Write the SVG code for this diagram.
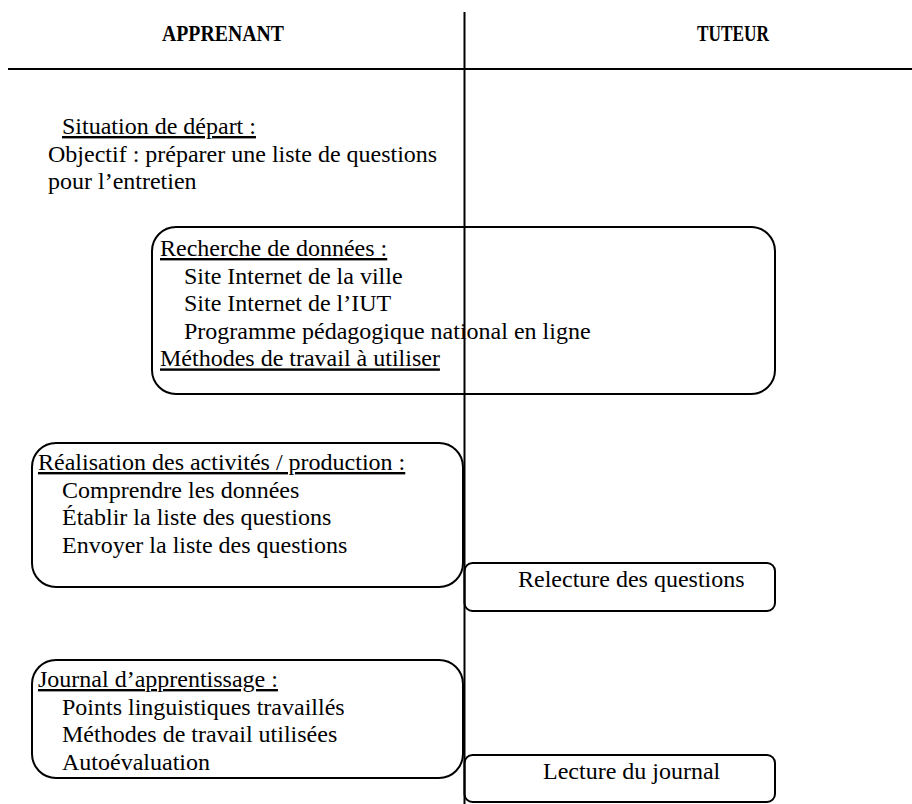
<svg xmlns="http://www.w3.org/2000/svg" width="912" height="804" viewBox="0 0 912 804">
<style>
text{font-family:"Liberation Serif","Times New Roman",serif;font-size:24px;fill:#000}
.h{font-weight:bold;text-anchor:middle}
.u{text-decoration:underline}
.box{fill:none;stroke:#000;stroke-width:2}
.ln{stroke:#000;fill:none}
</style>
<rect width="912" height="804" fill="#fff"/>
<g id="connectors">
<line class="ln" x1="464.5" y1="12" x2="464.5" y2="804" stroke-width="2"/>
<line class="ln" x1="8" y1="69" x2="912" y2="69" stroke-width="2.2"/>
</g>
<g id="header-apprenant"><text class="h" x="223" y="41" textLength="122" lengthAdjust="spacingAndGlyphs">APPRENANT</text></g>
<g id="header-tuteur"><text class="h" x="733" y="41" textLength="72" lengthAdjust="spacingAndGlyphs">TUTEUR</text></g>
<g id="situation">
<text class="u" x="62" y="134">Situation de départ :</text>
<text x="48" y="161.6">Objectif : préparer une liste de questions</text>
<text x="48" y="189.2">pour l’entretien</text>
</g>
<g id="recherche">
<rect class="box" x="152" y="227" width="623" height="167" rx="24"/>
<text class="u" x="160" y="256">Recherche de données :</text>
<text x="184" y="283.6">Site Internet de la ville</text>
<text x="184" y="311.2">Site Internet de l’IUT</text>
<text x="184" y="338.8">Programme pédagogique national en ligne</text>
<text class="u" x="160" y="366.4">Méthodes de travail à utiliser</text>
</g>
<g id="realisation">
<rect class="box" x="32" y="443" width="431" height="144" rx="24"/>
<text class="u" x="38" y="470">Réalisation des activités / production :</text>
<text x="62" y="497.6">Comprendre les données</text>
<text x="62" y="525.2">Établir la liste des questions</text>
<text x="62" y="552.8">Envoyer la liste des questions</text>
</g>
<g id="relecture">
<rect class="box" x="464.5" y="563" width="310.5" height="48" rx="8"/>
<text x="518" y="587">Relecture des questions</text>
</g>
<g id="journal">
<rect class="box" x="32" y="660" width="431" height="118" rx="24"/>
<text class="u" x="38" y="687">Journal d’apprentissage :</text>
<text x="62" y="714.6">Points linguistiques travaillés</text>
<text x="62" y="742.2">Méthodes de travail utilisées</text>
<text x="62" y="769.8">Autoévaluation</text>
</g>
<g id="lecture">
<rect class="box" x="464.5" y="755" width="310.5" height="47" rx="8"/>
<text x="543" y="779">Lecture du journal</text>
</g>
</svg>
